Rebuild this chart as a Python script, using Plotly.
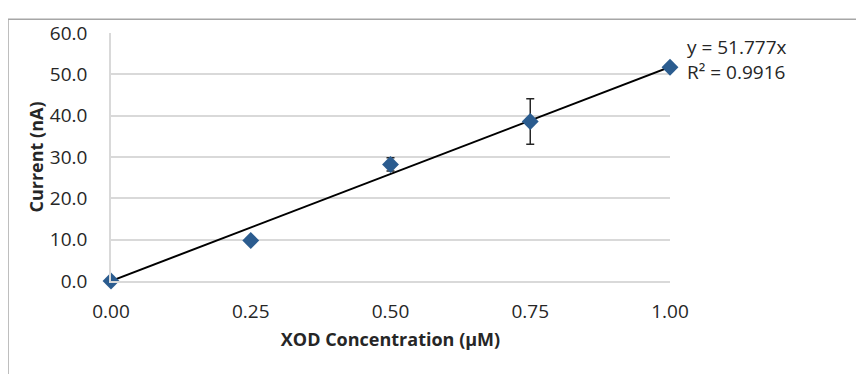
import plotly.graph_objects as go

conc = [0.0, 0.25, 0.50, 0.75, 1.00]
current = [0.0, 9.8, 28.2, 38.6, 51.7]
err = [0.0, 0.0, 1.6, 5.5, 0.0]
slope = 51.777
r2 = 0.9916
x_ticks = [0.0, 0.25, 0.5, 0.75, 1.0]
y_ticks = [0, 10, 20, 30, 40, 50, 60]

font = "Open Sans"
fig = go.Figure()
fig.add_trace(go.Scatter(
    x=[0.0, 1.0], y=[0.0, slope * 1.0], mode="lines",
    line=dict(color="black", width=2), hoverinfo="skip", showlegend=False))
fig.add_trace(go.Scatter(
    x=conc, y=current, mode="markers",
    marker=dict(symbol="diamond", size=13, color="#2b5c8f"),
    error_y=dict(type="data", array=err, visible=True, color="#262626", thickness=1.5, width=4),
    cliponaxis=False, showlegend=False))

fig.add_annotation(xref="paper", yref="paper", x=1.027, y=1.005, xanchor="left", yanchor="top",
                   text=f"y = {slope}x<br>R² = {r2}", showarrow=False, align="left",
                   font=dict(family=font, size=19, color="#262626"))

# outer chart border (left & top edges visible)
fig.add_shape(type="line", xref="paper", yref="paper", x0=-0.1843, x1=-0.1843, y0=-0.5, y1=1.0558,
              line=dict(color="#a6a6a6", width=1.5))
fig.add_shape(type="line", xref="paper", yref="paper", x0=-0.1843, x1=1.5, y0=1.0558, y1=1.0558,
              line=dict(color="#a6a6a6", width=1.5))

fig.update_layout(
    width=856, height=366,
    margin=dict(l=103, r=194, t=22, b=93),
    plot_bgcolor="white", paper_bgcolor="white",
    font=dict(family=font, size=19, color="#262626"),
    xaxis=dict(range=[0, 1], tickvals=x_ticks, ticktext=[f"{v:.2f}" for v in x_ticks],
               showgrid=False, zeroline=False, showline=True, linecolor="#d9d9d9", linewidth=1.5,
               ticks="", ticklabelstandoff=12,
               title=dict(text="<b>XOD Concentration (µM)</b>", font=dict(size=18), standoff=11)),
    yaxis=dict(range=[0, 60], tickvals=y_ticks, ticktext=[f"{v:.1f}" for v in y_ticks],
               showgrid=True, gridcolor="#d9d9d9", gridwidth=1.5, zeroline=False,
               showline=True, linecolor="#d9d9d9", linewidth=1.5, ticks="", ticklabelstandoff=18,
               title=dict(text="<b>Current (nA)</b>", font=dict(size=18), standoff=2)),
)
fig.write_html("out.html")
